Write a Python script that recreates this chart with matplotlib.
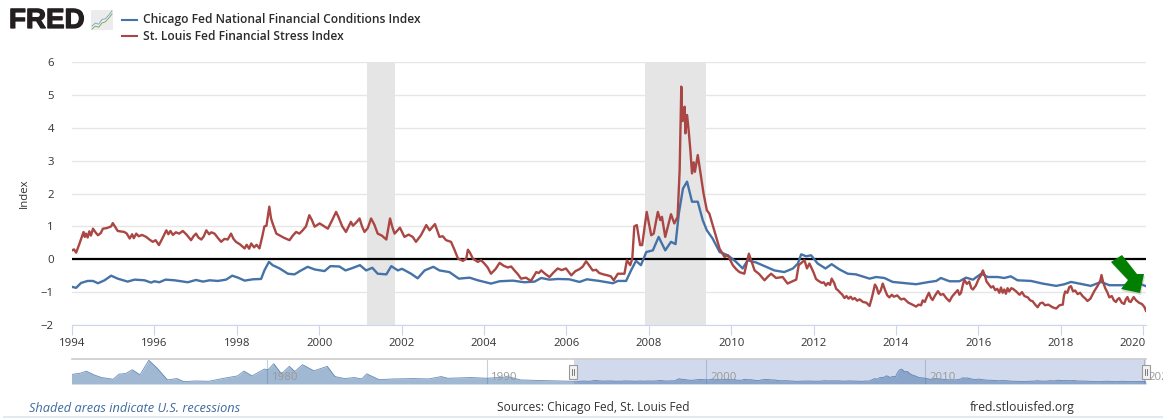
import matplotlib
matplotlib.use("Agg")
import matplotlib.pyplot as plt
import matplotlib.patheffects as pe
from matplotlib.patches import Polygon, Rectangle
from matplotlib.transforms import ScaledTranslation

plt.rcParams["font.family"] = ["Open Sans", "DejaVu Sans"]

W, H = 1163, 418

red_years = [1994.0, 1994.05, 1994.1, 1994.18, 1994.28, 1994.31, 1994.34, 1994.38, 1994.42, 1994.46, 1994.51,
             1994.57, 1994.63, 1994.7, 1994.75, 1994.85, 1994.95, 1994.99, 1995.05, 1995.11, 1995.27, 1995.33, 1995.4,
             1995.46, 1995.5, 1995.56, 1995.62, 1995.7, 1995.8, 1995.88, 1995.96, 1996.03, 1996.11, 1996.2, 1996.29,
             1996.34, 1996.39, 1996.45, 1996.52, 1996.6, 1996.69, 1996.78, 1996.89, 1996.95, 1997.01, 1997.07, 1997.14,
             1997.2, 1997.26, 1997.33, 1997.38, 1997.46, 1997.54, 1997.62, 1997.7, 1997.78, 1997.86, 1997.92, 1997.98,
             1998.08, 1998.19, 1998.24, 1998.3, 1998.35, 1998.42, 1998.48, 1998.55, 1998.62, 1998.67, 1998.72, 1998.79,
             1998.83, 1998.87, 1998.96, 1999.05, 1999.15, 1999.28, 1999.36, 1999.44, 1999.52, 1999.6, 1999.68, 1999.76,
             1999.82, 1999.89, 2000.01, 2000.1, 2000.21, 2000.3, 2000.41, 2000.47, 2000.56, 2000.65, 2000.77, 2000.82,
             2000.9, 2000.98, 2001.04, 2001.1, 2001.18, 2001.26, 2001.34, 2001.42, 2001.52, 2001.63, 2001.72, 2001.77,
             2001.83, 2001.96, 2002.07, 2002.17, 2002.27, 2002.35, 2002.47, 2002.6, 2002.68, 2002.81, 2002.92, 2003.0,
             2003.08, 2003.2, 2003.28, 2003.37, 2003.49, 2003.57, 2003.61, 2003.66, 2003.73, 2003.85, 2003.93, 2004.01,
             2004.09, 2004.17, 2004.28, 2004.38, 2004.48, 2004.58, 2004.66, 2004.74, 2004.82, 2004.9, 2005.02, 2005.14,
             2005.27, 2005.33, 2005.39, 2005.48, 2005.59, 2005.69, 2005.79, 2005.89, 2005.99, 2006.12, 2006.22, 2006.32,
             2006.4, 2006.48, 2006.56, 2006.64, 2006.72, 2006.8, 2006.9, 2007.0, 2007.08, 2007.15, 2007.25, 2007.41,
             2007.47, 2007.55, 2007.6, 2007.65, 2007.71, 2007.79, 2007.84, 2007.95, 2008.06, 2008.12, 2008.22, 2008.28,
             2008.32, 2008.4, 2008.54, 2008.62, 2008.7, 2008.75, 2008.79, 2008.81, 2008.84, 2008.87, 2008.89, 2008.93,
             2008.97, 2009.01, 2009.05, 2009.09, 2009.12, 2009.19, 2009.27, 2009.33, 2009.41, 2009.47, 2009.59, 2009.72,
             2009.84, 2009.92, 2010.04, 2010.12, 2010.2, 2010.32, 2010.43, 2010.57, 2010.68, 2010.81, 2010.9, 2010.97,
             2011.09, 2011.25, 2011.37, 2011.47, 2011.58, 2011.64, 2011.78, 2011.84, 2011.9,
             2012.0, 2012.06, 2012.1, 2012.15, 2012.2, 2012.25, 2012.3, 2012.35, 2012.4, 2012.44, 2012.5, 2012.55,
             2012.59, 2012.65, 2012.7, 2012.75, 2012.8, 2012.85, 2012.9, 2012.95, 2013.0, 2013.06, 2013.12, 2013.2,
             2013.28, 2013.36, 2013.42, 2013.49, 2013.53, 2013.58, 2013.63, 2013.68, 2013.74, 2013.79, 2013.84, 2013.9,
             2013.95, 2014.03, 2014.12, 2014.2, 2014.3, 2014.4, 2014.49, 2014.55, 2014.61, 2014.65, 2014.7, 2014.75,
             2014.8, 2014.85, 2014.89, 2014.95, 2015.02, 2015.08, 2015.15, 2015.22, 2015.3, 2015.36, 2015.42, 2015.5,
             2015.54, 2015.58, 2015.62, 2015.66, 2015.72, 2015.78, 2015.83, 2015.87, 2015.94, 2016.0, 2016.06, 2016.11,
             2016.16, 2016.2, 2016.26, 2016.31, 2016.36, 2016.41, 2016.46, 2016.51, 2016.55, 2016.59, 2016.63, 2016.67,
             2016.71, 2016.75, 2016.8, 2016.84, 2016.92, 2017.0, 2017.06, 2017.12, 2017.2, 2017.26, 2017.32, 2017.38,
             2017.44, 2017.5, 2017.56, 2017.62, 2017.7, 2017.8, 2017.89, 2017.97, 2018.05, 2018.08, 2018.11, 2018.16,
             2018.21, 2018.25, 2018.3, 2018.35, 2018.41, 2018.47, 2018.53, 2018.6, 2018.65, 2018.72, 2018.81, 2018.9,
             2018.96, 2018.99, 2019.03, 2019.08, 2019.13, 2019.18, 2019.24, 2019.29, 2019.34, 2019.38, 2019.42, 2019.48,
             2019.54, 2019.58, 2019.62, 2019.66, 2019.7, 2019.77, 2019.83, 2019.91, 2019.97, 2020.03, 2020.07]
red_values = [0.27, 0.3, 0.2, 0.47, 0.83, 0.68, 0.78, 0.66, 0.85, 0.72, 0.93,
              0.82, 0.73, 0.8, 0.93, 0.95, 1.0, 1.1, 0.98, 0.86, 0.83, 0.78, 0.63,
              0.76, 0.64, 0.78, 0.7, 0.74, 0.68, 0.6, 0.53, 0.58, 0.43, 0.65, 0.88,
              0.76, 0.86, 0.74, 0.82, 0.78, 0.86, 0.75, 0.58, 0.7, 0.78, 0.66, 0.6,
              0.7, 0.88, 0.76, 0.82, 0.78, 0.65, 0.53, 0.62, 0.6, 0.78, 0.62, 0.53,
              0.45, 0.33, 0.44, 0.32, 0.48, 0.36, 0.44, 0.33, 0.7, 1.0, 1.02, 1.6,
              1.25, 1.09, 0.78, 0.72, 0.65, 0.58, 0.72, 0.83, 0.78, 0.88, 1.0, 1.34,
              1.2, 0.99, 1.09, 1.02, 0.93, 1.15, 1.44, 1.28, 1.0, 0.83, 1.14, 1.02,
              1.12, 1.24, 1.0, 0.83, 0.95, 1.24, 1.05, 0.78, 0.72, 0.6, 1.24, 1.0,
              0.78, 0.96, 0.68, 0.75, 0.68, 0.53, 0.73, 1.04, 0.88, 1.07, 0.68, 0.7,
              0.58, 0.53, 0.3, 0.02, -0.05, 0.02, 0.29, 0.2, 0.02, -0.08, -0.03, -0.13,
              -0.25, -0.44, -0.3, -0.11, -0.2, -0.25, -0.22, -0.34, -0.45, -0.59, -0.56, -0.66,
              -0.39, -0.42, -0.34, -0.44, -0.54, -0.4, -0.28, -0.33, -0.28, -0.49, -0.36, -0.3,
              -0.22, -0.06, -0.2, -0.34, -0.32, -0.42, -0.46, -0.49, -0.52, -0.64, -0.44, -0.44,
              -0.03, -0.18, 0.02, 1.0, 1.04, 0.43, 0.43, 1.44, 0.73, 0.78, 1.44, 1.19,
              1.29, 0.68, 1.37, 1.09, 1.29, 2.71, 5.25, 4.2, 4.23, 4.64, 3.83, 4.39,
              3.9, 3.32, 2.61, 2.95, 2.66, 3.17, 2.51, 2.0, 1.49, 1.39, 0.88, 0.32,
              0.07, 0.12, -0.18, -0.3, -0.39, -0.44, 0.17, -0.34, -0.45, -0.64, -0.52, -0.44,
              -0.57, -0.54, -0.74, -0.68, -0.62, -0.18, -0.03, -0.28, -0.13,
              -0.4, -0.6, -0.64, -0.68, -0.72, -0.7, -0.8, -0.72, -0.78, -0.59, -0.72, -0.9,
              -0.94, -1.02, -1.08, -1.18, -1.12, -1.2, -1.14, -1.22, -1.18, -1.26, -1.22, -1.3,
              -1.32, -1.42, -1.15, -0.77, -0.85, -1.05, -0.95, -0.74, -0.95, -1.1, -1.16, -1.08,
              -1.14, -1.1, -1.22, -1.2, -1.32, -1.38, -1.44, -1.38, -1.4, -1.25, -1.3, -1.15,
              -1.02, -1.18, -1.24, -1.1, -0.97, -1.08, -1.06, -1.18, -1.28, -1.14, -1.05, -0.94,
              -1.08, -1.02, -0.8, -0.62, -0.75, -0.68, -0.88, -0.92, -0.8, -0.62, -0.5, -0.34,
              -0.5, -0.68, -0.78, -0.86, -0.82, -0.94, -0.9, -1.02, -0.86, -1.02, -0.92, -1.05,
              -0.88, -0.98, -0.88, -0.9, -0.98, -1.08, -1.0, -1.12, -1.16, -1.25, -1.28, -1.38,
              -1.46, -1.34, -1.32, -1.4, -1.38, -1.46, -1.5, -1.4, -1.38, -1.1, -0.98, -1.02,
              -0.84, -0.82, -0.98, -0.95, -1.06, -1.02, -1.12, -1.2, -1.27, -1.2, -0.98, -0.8,
              -0.65, -0.48, -0.7, -0.88, -1.0, -1.16, -1.12, -1.25, -1.3, -1.22, -1.18, -1.32,
              -1.36, -1.22, -1.15, -1.28, -1.3, -1.15, -1.25, -1.33, -1.36, -1.45, -1.57]

blue_years = [1994.0, 1994.1, 1994.22, 1994.38, 1994.51, 1994.63, 1994.79, 1994.95, 1995.11, 1995.35, 1995.52,
              1995.76, 1995.92, 1996.0, 1996.12, 1996.27, 1996.49, 1996.81, 1997.01, 1997.18, 1997.34, 1997.54, 1997.74,
              1997.89, 1998.03, 1998.19, 1998.39, 1998.59, 1998.67, 1998.78, 1998.87, 1999.04, 1999.24, 1999.4, 1999.56,
              1999.72, 1999.89, 2000.13, 2000.27, 2000.49, 2000.64, 2000.78, 2000.99, 2001.14, 2001.29, 2001.42, 2001.63,
              2001.75, 2001.91, 2002.01, 2002.23, 2002.39, 2002.56, 2002.77, 2002.92, 2003.16, 2003.39, 2003.65, 2003.85,
              2004.17, 2004.38, 2004.7, 2004.98, 2005.23, 2005.39, 2005.59, 2005.79, 2006.07, 2006.32, 2006.5, 2006.8,
              2007.13, 2007.25, 2007.45, 2007.57, 2007.69, 2007.81, 2007.94, 2008.1, 2008.24, 2008.4, 2008.54, 2008.65,
              2008.73, 2008.83, 2008.93, 2009.05, 2009.19, 2009.31, 2009.41, 2009.55, 2009.72, 2009.92, 2010.12, 2010.28,
              2010.4, 2010.61, 2010.85, 2011.05, 2011.29, 2011.5, 2011.62, 2011.7, 2011.82, 2011.94, 2012.1, 2012.29,
              2012.44, 2012.63, 2012.83, 2013.03, 2013.36, 2013.52, 2013.72, 2013.92, 2014.49, 2014.81, 2014.98, 2015.09,
              2015.3, 2015.54, 2015.7, 2015.87, 2016.07, 2016.23, 2016.47, 2016.63, 2016.79, 2016.95, 2017.28, 2017.56,
              2017.89, 2018.09, 2018.25, 2018.45, 2018.73, 2018.98, 2019.18, 2019.5, 2019.91, 2020.07]
blue_values = [-0.84, -0.87, -0.72, -0.66, -0.66, -0.73, -0.64, -0.5, -0.59, -0.68, -0.62,
               -0.64, -0.71, -0.67, -0.7, -0.62, -0.64, -0.7, -0.63, -0.68, -0.64, -0.66, -0.62,
               -0.5, -0.56, -0.65, -0.61, -0.6, -0.34, -0.08, -0.18, -0.28, -0.44, -0.46, -0.34,
               -0.23, -0.31, -0.36, -0.21, -0.22, -0.34, -0.28, -0.18, -0.34, -0.26, -0.44, -0.46,
               -0.21, -0.34, -0.29, -0.44, -0.58, -0.34, -0.23, -0.34, -0.39, -0.59, -0.56, -0.64,
               -0.74, -0.67, -0.65, -0.7, -0.68, -0.57, -0.62, -0.6, -0.61, -0.69, -0.61, -0.66,
               -0.73, -0.66, -0.66, -0.34, -0.05, -0.18, 0.22, 0.27, 0.68, 0.27, 0.53, 0.46,
               1.39, 2.15, 2.36, 1.75, 1.75, 1.19, 0.88, 0.63, 0.22, 0.12, -0.08, -0.28,
               -0.03, -0.1, -0.23, -0.34, -0.39, -0.28, -0.13, 0.15, 0.09, 0.12, -0.13, -0.28,
               -0.15, -0.31, -0.44, -0.46, -0.59, -0.54, -0.57, -0.69, -0.76, -0.69, -0.66, -0.57,
               -0.67, -0.67, -0.56, -0.62, -0.44, -0.54, -0.54, -0.57, -0.52, -0.64, -0.66, -0.74,
               -0.81, -0.76, -0.69, -0.74, -0.81, -0.69, -0.79, -0.79, -0.74, -0.82]

nav_years = [1971.07, 1971.49, 1971.75, 1972.1, 1972.45, 1972.98, 1973.24, 1973.55, 1973.85, 1974.2, 1974.6,
             1974.98, 1975.45, 1975.89, 1976.2, 1976.73, 1977.34, 1977.95, 1978.65, 1978.94, 1979.31, 1979.87,
             1980.04, 1980.3, 1980.65, 1981.01, 1981.26, 1981.61, 1982.13, 1982.74, 1983.09, 1983.53, 1983.96,
             1984.31, 1984.54, 1985.1, 1985.8, 1986.67, 1987.37, 1987.93, 1988.24, 1989.29, 1990.0, 1991.03,
             1991.55, 1992.6, 1993.96]
nav_values = [1.0, 1.34, 1.85, 0.91, 0.23, -0.2, 1.08, 1.25, 2.19, 0.91, 4.58,
              2.62, -0.37, -0.03, -0.8, -0.63, -0.71, -0.03, 0.65, 1.85, 0.65, 2.36,
              2.19, 3.73, 1.17, 3.05, 1.76, 3.47, 1.93, 3.05, 0.48, -0.03, 0.23,
              -0.12, 1.17, -0.29, -0.12, -0.03, -0.12, 0.48, 0.05, 0.23, 0.05, 0.4,
              -0.37, -0.54, -0.71]

recessions = [(2001.17, 2001.83), (2007.9, 2009.4)]
y_ticks = [-2, -1, 0, 1, 2, 3, 4, 5, 6]
x_ticks = list(range(1994, 2021, 2))
nav_decades = [1980, 1990, 2000, 2010, 2020]
logo_x = [0, 1, 2, 3, 4, 5, 6]
logo_green = [1, 2, 1.6, 3, 3.4, 4.6, 6]
logo_blue = [2, 3, 2.6, 4.2, 4.4, 5.6, 7]

BLUE = "#4572a7"
RED = "#aa4643"


def box(left, top, right, bottom):
    return [left / W, 1 - bottom / H, (right - left) / W, (bottom - top) / H]


def px(x, y):
    return x / W, 1 - y / H


fig = plt.figure(figsize=(W / 100, H / 100), dpi=100)

ax = fig.add_axes(box(72, 62, 1146, 325))
ax.set_xlim(1994, 2020.07)
ax.set_ylim(-2, 6)
for v in y_ticks:
    ax.axhline(v, color="#e6e6e6", lw=1.0, zorder=1)
for start, end in recessions:
    ax.axvspan(start, end, color="#e5e5e5", lw=0, zorder=2)
ax.axhline(0, color="black", lw=1.6, zorder=3)
ax.plot(blue_years, blue_values, color=BLUE, lw=1.7, zorder=4, solid_joinstyle="round")
ax.plot(red_years, red_values, color=RED, lw=1.7, zorder=5, solid_joinstyle="round")
for side in ["top", "right", "left"]:
    ax.spines[side].set_visible(False)
ax.spines["bottom"].set_color("#ccd6eb")
ax.set_xticks(x_ticks)
ax.set_yticks(y_ticks)
ax.tick_params(axis="x", length=7, color="#ccd6eb", labelsize=8.2, labelcolor="#333333", pad=2)
ax.tick_params(axis="y", length=0, labelsize=8.2, labelcolor="#333333", pad=13)
ax.set_ylabel("Index", fontsize=8.2, color="#333333", labelpad=8)
last = ax.get_xticklabels()[-1]
last.set_horizontalalignment("right")
last.set_transform(last.get_transform() + ScaledTranslation(2 / 72, 0, fig.dpi_scale_trans))

nav = fig.add_axes(box(72, 359, 1146, 384))
nav.set_xlim(1971.1, 2020.07)
nav.set_ylim(-1.4, 4.9)
nav.fill_between(nav_years + blue_years, nav_values + blue_values, -1.4, color=BLUE, alpha=0.5, lw=0, zorder=3)
nav.plot(nav_years + blue_years, nav_values + blue_values, color=BLUE, lw=0.6, alpha=0.8, zorder=4)
nav.axvspan(1994, 2020.07, color="#6685c2", alpha=0.3, lw=0, zorder=2)
for d in nav_decades:
    nav.axvline(d, color="#c8cfdc", lw=0.8, zorder=1)
    nav.text(d + 0.2, 0.12, str(d), fontsize=8.2, color="#999999", va="center", zorder=5, clip_on=False)
nav.set_xticks([])
nav.set_yticks([])
for side in ["left", "right", "bottom"]:
    nav.spines[side].set_visible(False)
nav.spines["top"].set_color("#cccccc")
nav.spines["top"].set_linewidth(1.2)

# navigator handles
for hx in [573, 1146]:
    fig.add_artist(Rectangle(px(hx - 4, 379), 8 / W, 14 / H, transform=fig.transFigure,
                             fc="#f2f2f2", ec="#999999", lw=0.8, zorder=6))
    for off in [-1.2, 1.2]:
        fig.add_artist(plt.Line2D([(hx + off) / W] * 2, [1 - 369 / H, 1 - 375 / H],
                                  color="#666666", lw=0.6, zorder=7))

# green arrow on top of the chart
arrow = [(1111, 262), (1122, 255), (1137, 274), (1144, 274), (1140, 293), (1121, 289), (1128, 280)]
shadow = [(x + 1, y + 2) for x, y in arrow]
fig.add_artist(Polygon([px(*p) for p in shadow], transform=fig.transFigure, fc="#888888", alpha=0.3, lw=0, zorder=8))
fig.add_artist(Polygon([px(*p) for p in arrow], transform=fig.transFigure, fc="#007f00", lw=0, zorder=9))

# legend
for ly, col, name in [(19.5, BLUE, "Chicago Fed National Financial Conditions Index"),
                      (36, RED, "St. Louis Fed Financial Stress Index")]:
    fig.add_artist(plt.Line2D([122 / W, 137 / W], [1 - ly / H] * 2, color=col, lw=1.5))
    fig.text(143 / W, 1 - ly / H, name, fontsize=8.66, fontweight="semibold", color="#2b2b2b", va="center")

# logo
logo_text = fig.text(9 / W, 1 - 21 / H, "FRED", fontsize=20, fontweight="black", family="Liberation Sans",
                     color="#231f20", va="center", ha="left")
logo_text.set_path_effects([pe.withStroke(linewidth=0.9, foreground="#231f20")])
logo = fig.add_axes(box(91, 10, 113, 30))
logo.plot(logo_x, logo_green, color="#6aa84f", lw=0.6)
logo.plot(logo_x, logo_blue, color="#7f9fc0", lw=0.6)
logo.set_xticks([])
logo.set_yticks([])
logo.set_facecolor("#ececec")
for s in logo.spines.values():
    s.set_visible(False)

# footer
fig.text(29 / W, 1 - 408 / H, "Shaded areas indicate U.S. recessions", fontsize=9.2, style="italic",
         color="#3e6a9e", va="center")
fig.text(497 / W, 1 - 408 / H, "Sources: Chicago Fed, St. Louis Fed", fontsize=8.6, color="#333333", va="center")
fig.text(970 / W, 1 - 408 / H, "fred.stlouisfed.org", fontsize=8.8, color="#333333", va="center")
fig.add_artist(Rectangle(px(3, 418), (W - 3) / W, 2 / H, transform=fig.transFigure, fc="#e1e9f2", lw=0))

fig.savefig("out.png", dpi=100)
